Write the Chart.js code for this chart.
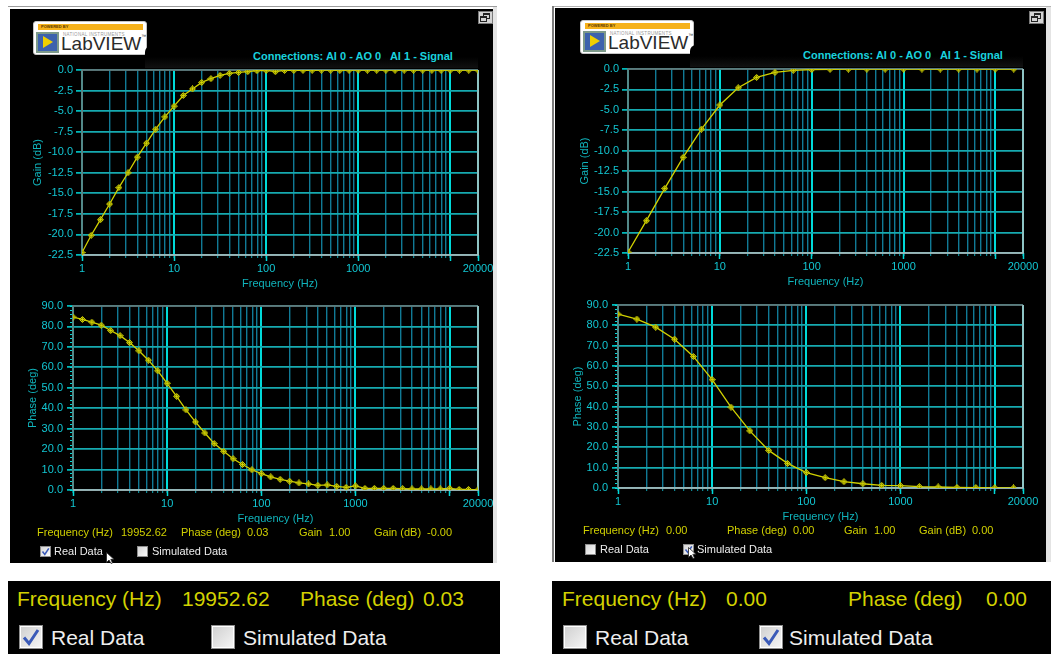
<!DOCTYPE html>
<html>
<head>
<meta charset="utf-8">
<script src="https://cdn.jsdelivr.net/npm/chart.js@4.4.1/dist/chart.umd.min.js"></script>
<style>
html,body{margin:0;padding:0;background:#fff;}
body{width:1051px;height:654px;position:relative;overflow:hidden;font-family:'Liberation Sans',Arial,sans-serif;}
.a{position:absolute;}
.blk{position:absolute;background:#000;}
.t{position:absolute;white-space:nowrap;line-height:1;}
.ro{font-size:11px;color:#d0d000;}
.lb{font-size:11px;color:#ececec;}
.big{font-size:21px;color:#d2d200;}
.bigw{font-size:21px;color:#eeeeee;}
.ttl{font-size:11px;font-weight:bold;color:#1ad2de;}
.cbs{position:absolute;width:9px;height:9px;border:1px solid #8f8f8f;background:linear-gradient(135deg,#d6d6d6,#fbfbfb);}
.cbb{position:absolute;width:22px;height:22px;border:1px solid #8f8f8f;background:linear-gradient(135deg,#cfcfcf,#f6f6f6);box-shadow:inset 0 0 0 1px #fff;}
.cbs svg,.cbb svg{position:absolute;left:0;top:0;}
.logo{position:absolute;width:112px;height:32px;background:#fff;border:1px solid #c4c4c4;border-radius:3px;}
.logo .bar{position:absolute;left:4px;top:2px;width:105px;height:6px;background:#f6b21b;}
.logo .bar span{position:absolute;left:3px;top:1px;font-size:4px;line-height:4px;color:#5a3800;font-weight:bold;}
.logo .ico{position:absolute;left:2px;top:10px;width:19px;height:17px;background:#3d62ad;border:2px solid #7d9a8a;}
.logo .tri{position:absolute;left:5px;top:2px;width:0;height:0;border-left:10px solid #f0d000;border-top:6px solid transparent;border-bottom:6px solid transparent;}
.logo .ni{position:absolute;left:29px;top:10px;font-size:4.5px;line-height:5px;color:#9a9a9a;letter-spacing:0.3px;white-space:nowrap;}
.logo .lv{position:absolute;left:27px;top:12px;font-size:19px;line-height:1;color:#2b2b2b;white-space:nowrap;}
.logo .tm{font-size:5px;vertical-align:top;}
.rst{position:absolute;width:13px;height:11px;background:#d4d4d4;border:1px solid #7a7a7a;}
.rst .w1{position:absolute;left:4px;top:1px;width:5px;height:3px;border:1px solid #222;border-top-width:2px;}
.rst .w2{position:absolute;left:1px;top:4px;width:5px;height:3px;border:1px solid #222;border-top-width:2px;background:#d4d4d4;}
.band{position:absolute;height:22px;background:linear-gradient(#000 0%,#000 50%,#111 100%);border-radius:6px 0 0 0;}
canvas{position:absolute;}
</style>
</head>
<body>

<!-- window frames -->
<div class="a" style="left:8px;top:6px;width:489px;height:1px;background:#9c9c9c"></div>
<div class="a" style="left:493px;top:7px;width:4px;height:556px;background:#e4e4e4"></div>
<div class="blk" style="left:10px;top:9px;width:483px;height:554px"></div>

<div class="a" style="left:552px;top:6px;width:499px;height:1px;background:#b4b4b4"></div>
<div class="a" style="left:552px;top:6px;width:2px;height:556px;background:#7c7c7c"></div>
<div class="a" style="left:1046px;top:7px;width:5px;height:555px;background:#e4e4e4"></div>
<div class="blk" style="left:555px;top:8px;width:491px;height:554px"></div>

<!-- left panel header -->
<div class="logo" style="left:33px;top:21px">
  <div class="bar"><span>POWERED BY</span></div>
  <div class="ico"><div class="tri"></div></div>
  <div class="ni">NATIONAL INSTRUMENTS</div>
  <div class="lv">LabVIEW<span class="tm">™</span></div>
</div>
<div class="rst" style="left:478px;top:11px"><div class="w1"></div><div class="w2"></div></div>
<div class="band" style="left:145px;top:46px;width:333px"></div>
<div class="t ttl" style="left:253px;top:51px">Connections: AI 0 - AO 0&nbsp;&nbsp; AI 1 - Signal</div>

<!-- right panel header -->
<div class="logo" style="left:580px;top:20px">
  <div class="bar"><span>POWERED BY</span></div>
  <div class="ico"><div class="tri"></div></div>
  <div class="ni">NATIONAL INSTRUMENTS</div>
  <div class="lv">LabVIEW<span class="tm">™</span></div>
</div>
<div class="rst" style="left:1029px;top:11px"><div class="w1"></div><div class="w2"></div></div>
<div class="band" style="left:690px;top:45px;width:333px"></div>
<div class="t ttl" style="left:803px;top:50px">Connections: AI 0 - AO 0&nbsp;&nbsp; AI 1 - Signal</div>

<canvas id="gainReal" width="486" height="232" style="left:10px;top:60px"></canvas>
<canvas id="phaseReal" width="486" height="231" style="left:10px;top:296px"></canvas>
<canvas id="gainSim" width="494" height="231" style="left:556px;top:59px"></canvas>
<canvas id="phaseSim" width="494" height="230" style="left:556px;top:295px"></canvas>

<!-- left readouts -->
<div class="t ro" style="left:37px;top:527px">Frequency (Hz)</div>
<div class="t ro" style="left:121px;top:527px">19952.62</div>
<div class="t ro" style="left:181px;top:527px">Phase (deg)</div>
<div class="t ro" style="left:247px;top:527px">0.03</div>
<div class="t ro" style="left:299px;top:527px">Gain</div>
<div class="t ro" style="left:329px;top:527px">1.00</div>
<div class="t ro" style="left:374px;top:527px">Gain (dB)</div>
<div class="t ro" style="left:427px;top:527px">-0.00</div>
<div class="cbs" style="left:40px;top:546px"><svg width="9" height="9"><path d="M1.5 4.6 L3.8 7.4 L7.8 1.4" fill="none" stroke="#3a5ab8" stroke-width="1.6"/></svg></div>
<div class="t lb" style="left:54px;top:546px">Real Data</div>
<div class="cbs" style="left:137px;top:546px"></div>
<div class="t lb" style="left:152px;top:546px">Simulated Data</div>
<svg class="a" style="left:106px;top:552px" width="10" height="12"><path d="M0.5 0.5 L0.5 10.5 L3 8 L5 11.5 L6.5 11 L4.8 7.3 L8 7.3 Z" fill="#fff" stroke="#222" stroke-width="0.8"/></svg>

<!-- right readouts -->
<div class="t ro" style="left:583px;top:525px">Frequency (Hz)</div>
<div class="t ro" style="left:666px;top:525px">0.00</div>
<div class="t ro" style="left:727px;top:525px">Phase (deg)</div>
<div class="t ro" style="left:793px;top:525px">0.00</div>
<div class="t ro" style="left:844px;top:525px">Gain</div>
<div class="t ro" style="left:874px;top:525px">1.00</div>
<div class="t ro" style="left:919px;top:525px">Gain (dB)</div>
<div class="t ro" style="left:972px;top:525px">0.00</div>
<div class="cbs" style="left:585px;top:544px"></div>
<div class="t lb" style="left:600px;top:544px">Real Data</div>
<div class="cbs" style="left:683px;top:544px"><svg width="9" height="9"><path d="M1.5 4.6 L3.8 7.4 L7.8 1.4" fill="none" stroke="#3a5ab8" stroke-width="1.6"/></svg></div>
<div class="t lb" style="left:697px;top:544px">Simulated Data</div>
<svg class="a" style="left:688px;top:547px" width="10" height="12"><path d="M0.5 0.5 L0.5 10.5 L3 8 L5 11.5 L6.5 11 L4.8 7.3 L8 7.3 Z" fill="#fff" stroke="#222" stroke-width="0.8"/></svg>

<!-- enlarged readout strips -->
<div class="blk" style="left:8px;top:581px;width:492px;height:73px"></div>
<div class="t big" style="left:17px;top:588px">Frequency (Hz)</div>
<div class="t big" style="left:182px;top:588px">19952.62</div>
<div class="t big" style="left:300px;top:588px">Phase (deg)</div>
<div class="t big" style="left:423px;top:588px">0.03</div>
<div class="cbb" style="left:19px;top:625px"><svg width="22" height="22"><path d="M4 11.5 L9 17.5 L18 4" fill="none" stroke="#3a5ab8" stroke-width="3"/></svg></div>
<div class="t bigw" style="left:51px;top:627px">Real Data</div>
<div class="cbb" style="left:211px;top:625px"></div>
<div class="t bigw" style="left:243px;top:627px">Simulated Data</div>

<div class="blk" style="left:552px;top:581px;width:499px;height:73px"></div>
<div class="t big" style="left:562px;top:588px">Frequency (Hz)</div>
<div class="t big" style="left:726px;top:588px">0.00</div>
<div class="t big" style="left:848px;top:588px">Phase (deg)</div>
<div class="t big" style="left:986px;top:588px">0.00</div>
<div class="cbb" style="left:563px;top:625px"></div>
<div class="t bigw" style="left:595px;top:627px">Real Data</div>
<div class="cbb" style="left:759px;top:625px"><svg width="22" height="22"><path d="M4 11.5 L9 17.5 L18 4" fill="none" stroke="#3a5ab8" stroke-width="3"/></svg></div>
<div class="t bigw" style="left:789px;top:627px">Simulated Data</div>

<script>
// ---- measured response (10 points per decade) ----
const REAL_FREQ = [1, 1.259, 1.585, 1.995, 2.512, 3.162, 3.981, 5.012, 6.310, 7.943,
  10, 12.59, 15.85, 19.95, 25.12, 31.62, 39.81, 50.12, 63.10, 79.43,
  100, 125.9, 158.5, 199.5, 251.2, 316.2, 398.1, 501.2, 631.0, 794.3,
  1000, 1259, 1585, 1995, 2512, 3162, 3981, 5012, 6310, 7943,
  10000, 12589, 15849, 19952.62];
const REAL_GAIN = [-22.2, -20.1, -18.2, -16.3, -14.3, -12.5, -10.6, -8.9, -7.2, -5.7,
  -4.4, -3.1, -2.3, -1.51, -1.06, -0.65, -0.41, -0.29, -0.2, -0.08,
  -0.04, -0.2, -0.05, -0.04, -0.03, -0.03, -0.02, -0.02, -0.03, -0.02,
  -0.01, -0.02, -0.02, -0.01, -0.02, -0.01, -0.02, -0.01, -0.02, -0.03,
  -0.01, -0.02, -0.01, -0.003];
const REAL_PHASE = [84.6, 83.4, 82.1, 80.6, 78.0, 75.5, 72.1, 68.1, 63.5, 58.3,
  52.2, 45.8, 39.2, 33.3, 27.9, 22.7, 18.9, 15.3, 12.5, 9.9,
  8.0, 6.4, 5.25, 4.3, 3.45, 2.96, 2.3, 2.5, 1.8, 1.3,
  2.0, 0.8, 0.8, 0.8, 0.8, 0.65, 0.5, 0.5, 0.5, 0.5,
  0.8, 0.3, 0.3, 0.03];

// ---- simulated response (5 points per decade) ----
const SIM_FREQ = [1, 1.585, 2.512, 3.981, 6.310, 10, 15.85, 25.12, 39.81, 63.10,
  100, 158.5, 251.2, 398.1, 631.0, 1000, 1585, 2512, 3981, 6310, 10000, 15849];
const SIM_GAIN = [-22.4, -18.55, -14.6, -10.8, -7.35, -4.4, -2.3, -1.03, -0.41, -0.16,
  -0.07, -0.03, -0.01, -0.004, -0.002, -0.001, 0, 0, 0, 0, 0, 0];
const SIM_PHASE = [85.5, 83.1, 79.1, 73.2, 64.7, 53.3, 39.8, 28.1, 18.5, 12.1,
  7.6, 5.1, 3.1, 2.1, 1.3, 1.15, 0.7, 0.5, 0.3, 0.2, 0.1, 0.05];

// ---- axes ----
const FREQ_GRID = [1, 2, 3, 4, 5, 6, 7, 8, 9, 10, 20, 30, 40, 50, 60, 70, 80, 90,
  100, 200, 300, 400, 500, 600, 700, 800, 900, 1000, 2000, 3000, 4000, 5000, 6000,
  7000, 8000, 9000, 10000, 20000];
const FREQ_MAJOR = [1, 10, 100, 1000, 10000, 20000];
const FREQ_LABELS = {1: '1', 10: '10', 100: '100', 1000: '1000', 20000: '20000'};
const GAIN_TICKS = [0, -2.5, -5, -7.5, -10, -12.5, -15, -17.5, -20, -22.5];
const PHASE_TICKS = [0, 10, 20, 30, 40, 50, 60, 70, 80, 90];
const PHASE_MINOR_TICKS = Array.from({length: 46}, (_, i) => i * 2);

const FONT = "'Liberation Sans', Arial, sans-serif";
const TICK_TXT = '#12c6d2';
const TITLE_TXT = '#10b4bc';
const GRID_MAJOR = '#00dada';
const GRID_MINOR = '#117a96';
const GRID_H = '#16aab0';
const LINE = '#d2d200';

function makeMarker() {
  const c = document.createElement('canvas');
  c.width = 7; c.height = 7;
  const g = c.getContext('2d');
  g.fillStyle = 'rgba(110,110,0,0.85)';
  g.strokeStyle = '#d6d600';
  g.lineWidth = 1;
  g.beginPath();
  g.moveTo(3.5, 0.5); g.lineTo(6.5, 3.5); g.lineTo(3.5, 6.5); g.lineTo(0.5, 3.5); g.closePath();
  g.fill(); g.stroke();
  g.beginPath();
  g.moveTo(3.5, 1.5); g.lineTo(3.5, 5.5); g.moveTo(1.5, 3.5); g.lineTo(5.5, 3.5);
  g.stroke();
  return c;
}
const MARKER = makeMarker();

// sunken frame around each plot area
const framePlugin = {
  id: 'plotFrame',
  beforeDatasetsDraw(chart) {
    const {ctx, chartArea: a} = chart;
    ctx.save();
    ctx.lineWidth = 1.5;
    ctx.strokeStyle = '#6f6f6f';
    ctx.beginPath();
    ctx.moveTo(a.left, a.bottom); ctx.lineTo(a.left, a.top); ctx.lineTo(a.right, a.top);
    ctx.stroke();
    ctx.strokeStyle = '#bdbdbd';
    ctx.beginPath();
    ctx.moveTo(a.right, a.top); ctx.lineTo(a.right, a.bottom); ctx.lineTo(a.left, a.bottom);
    ctx.stroke();
    ctx.restore();
  }
};

const isMajor = v => FREQ_MAJOR.includes(v);
const fmt1 = v => (Math.abs(v) < 1e-9 ? 0 : v).toFixed(1);

function plot(id, freq, values, p) {
  const font = {family: FONT, size: 11};
  const scales = {
    x: {
      type: 'logarithmic', min: 1, max: 20000, position: 'bottom', weight: 1,
      afterBuildTicks: s => { s.ticks = FREQ_GRID.map(v => ({value: v})); },
      afterFit: s => { s.height = 37; s.paddingLeft = 0; s.paddingRight = 0; },
      ticks: {autoSkip: false, maxRotation: 0, minRotation: 0, padding: 4, color: TICK_TXT, font,
        callback: v => FREQ_LABELS[v] || ''},
      grid: {
        color: c => (c.tick && isMajor(c.tick.value)) ? GRID_MAJOR : GRID_MINOR,
        lineWidth: c => (c.tick && isMajor(c.tick.value)) ? 2 : 1.4,
        tickLength: 3, tickColor: '#0fa8b8', tickWidth: 1
      },
      border: {display: false},
      title: {display: true, text: 'Frequency (Hz)', color: TITLE_TXT, font, padding: {top: 0, bottom: 1}}
    },
    xMajor: {
      type: 'logarithmic', axis: 'x', min: 1, max: 20000, position: 'bottom', weight: 0,
      afterBuildTicks: s => { s.ticks = FREQ_MAJOR.map(v => ({value: v})); },
      afterFit: s => { s.height = 0; s.paddingLeft = 0; s.paddingRight = 0; },
      ticks: {display: false, autoSkip: false},
      grid: {drawOnChartArea: false, tickLength: 6, tickColor: GRID_MAJOR, tickWidth: 1.5},
      border: {display: false}
    },
    y: {
      type: 'linear', min: p.yMin, max: p.yMax, position: 'left', weight: 1,
      afterBuildTicks: s => { s.ticks = p.yTicks.map(v => ({value: v})); },
      afterFit: s => { s.width = p.yWidth; s.paddingTop = 0; s.paddingBottom = 0; },
      ticks: {autoSkip: false, padding: p.yPad, color: TICK_TXT, font, callback: v => fmt1(v)},
      grid: {color: GRID_H, lineWidth: 1.8, tickLength: 6, tickColor: GRID_MAJOR, tickWidth: 1.5},
      border: {display: false},
      title: {display: true, text: p.yTitle, color: TITLE_TXT, font, padding: {top: p.titlePad, bottom: 0}}
    }
  };
  if (p.yMinor) {
    scales.yMinor = {
      type: 'linear', axis: 'y', min: p.yMin, max: p.yMax, position: 'left', weight: 0,
      afterBuildTicks: s => { s.ticks = p.yMinor.map(v => ({value: v})); },
      afterFit: s => { s.width = 0; s.paddingTop = 0; s.paddingBottom = 0; },
      ticks: {display: false, autoSkip: false},
      grid: {drawOnChartArea: false, tickLength: 3, tickColor: GRID_MAJOR, tickWidth: 1},
      border: {display: false}
    };
  }
  return new Chart(document.getElementById(id), {
    type: 'line',
    data: {
      datasets: [{
        data: freq.map((f, i) => ({x: f, y: values[i]})),
        borderColor: LINE, borderWidth: 1.3, tension: 0,
        pointStyle: MARKER, pointRadius: 3.5, pointHoverRadius: 3.5
      }]
    },
    options: {
      responsive: false, animation: false, devicePixelRatio: 1, events: [],
      layout: {padding: {top: 10, right: p.padRight, left: 0, bottom: 0}},
      plugins: {legend: {display: false}, tooltip: {enabled: false}},
      scales
    },
    plugins: [framePlugin]
  });
}

const gainAxis = {yMin: -22.5, yMax: 0, yTicks: GAIN_TICKS, yTitle: 'Gain (dB)', yPad: 3};
const phaseAxis = {yMin: 0, yMax: 90, yTicks: PHASE_TICKS, yMinor: PHASE_MINOR_TICKS, yTitle: 'Phase (deg)', yPad: 4};

plot('gainReal', REAL_FREQ, REAL_GAIN, {...gainAxis, yWidth: 72, titlePad: 21, padRight: 18});
plot('phaseReal', REAL_FREQ, REAL_PHASE, {...phaseAxis, yWidth: 63, titlePad: 16, padRight: 18});
plot('gainSim', SIM_FREQ, SIM_GAIN, {...gainAxis, yWidth: 72, titlePad: 22, padRight: 27});
plot('phaseSim', SIM_FREQ, SIM_PHASE, {...phaseAxis, yWidth: 62, titlePad: 15, padRight: 27});
</script>
</body>
</html>
